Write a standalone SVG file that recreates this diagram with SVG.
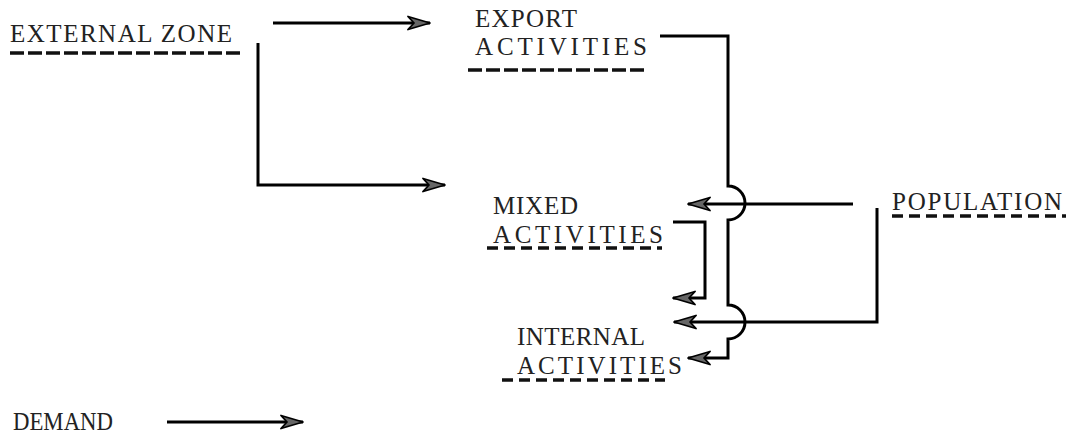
<svg xmlns="http://www.w3.org/2000/svg" width="1068" height="436" viewBox="0 0 1068 436">
  <style>
    .lbl { font-family: "Liberation Serif", "DejaVu Serif", serif; font-size: 25px; fill: #222; }
    .ul { fill: none; stroke: #111; stroke-width: 3.5; stroke-dasharray: 14 4; }
    .ul2 { fill: none; stroke: #111; stroke-width: 3.5; stroke-dasharray: 11 6; }
    .conn { fill: none; stroke: #000; stroke-width: 3; }
  </style>
  <defs>
    <marker id="arr" viewBox="0 0 24 16" refX="23" refY="8" markerWidth="24" markerHeight="16" markerUnits="userSpaceOnUse" orient="auto">
      <path d="M23,8 L1,1.5 L7,8 L1,14.5 Z" fill="#666" stroke="#000" stroke-width="1.8" stroke-linejoin="round"/>
    </marker>
  </defs>
  <rect width="1068" height="436" fill="#fff"/>

  <g id="external-zone">
    <text class="lbl" x="10" y="42" textLength="222" lengthAdjust="spacing">EXTERNAL ZONE</text>
    <path class="ul" d="M10,53 H240"/>
  </g>
  <g id="export-activities">
    <text class="lbl" x="475" y="27" textLength="102" lengthAdjust="spacing">EXPORT</text>
    <text class="lbl" x="475" y="55" textLength="172" lengthAdjust="spacing">ACTIVITIES</text>
    <path class="ul" d="M468,70 H645"/>
  </g>
  <g id="mixed-activities">
    <text class="lbl" x="493" y="214" textLength="85" lengthAdjust="spacing">MIXED</text>
    <text class="lbl" x="493" y="243" textLength="170" lengthAdjust="spacing">ACTIVITIES</text>
    <path class="ul2" d="M487,248 H662"/>
  </g>
  <g id="internal-activities">
    <text class="lbl" x="517" y="345" textLength="128" lengthAdjust="spacing">INTERNAL</text>
    <text class="lbl" x="517" y="374" textLength="165" lengthAdjust="spacing">ACTIVITIES</text>
    <path class="ul2" d="M502,380 H665"/>
  </g>
  <g id="population">
    <text class="lbl" x="892" y="210" textLength="170" lengthAdjust="spacing">POPULATION</text>
    <path class="ul2" d="M892,216 H1066"/>
  </g>
  <g id="demand-legend">
    <text class="lbl" x="13" y="430" textLength="100" lengthAdjust="spacingAndGlyphs">DEMAND</text>
  </g>

  <g id="connectors">
    <path class="conn" d="M273,23 H430" marker-end="url(#arr)"/>
    <path class="conn" d="M258,43 V185 H445" marker-end="url(#arr)"/>
    <path class="conn" d="M660,36 H728 V186 A17,17 0 0 1 728,220 V305 A17,17 0 0 1 728,339 V358 H688" marker-end="url(#arr)"/>
    <path class="conn" d="M853,204 H688" marker-end="url(#arr)"/>
    <path class="conn" d="M877,208 V322 H674" marker-end="url(#arr)"/>
    <path class="conn" d="M673,222 H705 V298 H673" marker-end="url(#arr)"/>
    <path class="conn" d="M167,422 H303" marker-end="url(#arr)"/>
  </g>
</svg>
